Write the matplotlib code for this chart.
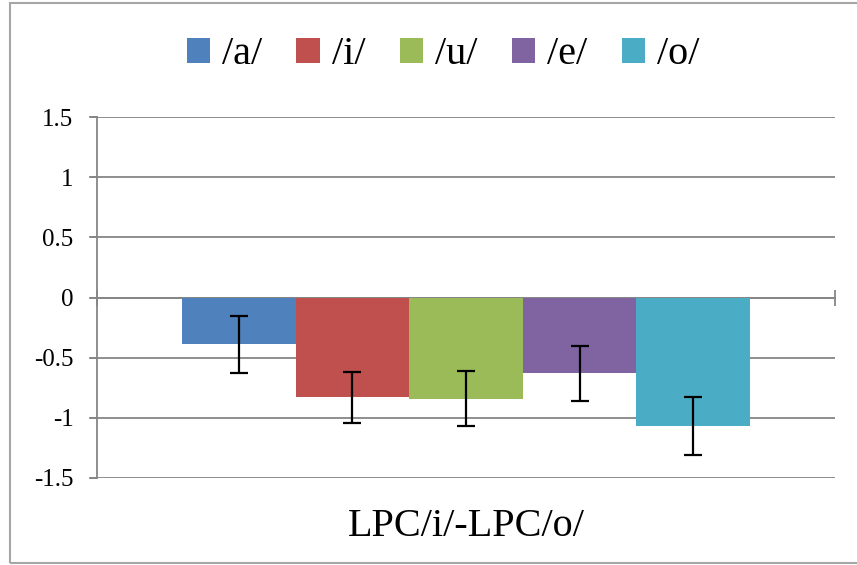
import matplotlib
matplotlib.use("Agg")
import matplotlib.pyplot as plt
from matplotlib.patches import Rectangle
from matplotlib.lines import Line2D

# Data
category = "LPC/i/-LPC/o/"
series = ["/a/", "/i/", "/u/", "/e/", "/o/"]
means = [-0.39, -0.83, -0.84, -0.63, -1.07]
errors = [0.24, 0.21, 0.23, 0.23, 0.24]
colors = ["#4F81BD", "#C0504D", "#9BBB59", "#8064A2", "#4BACC6"]
yticks = [-1.5, -1, -0.5, 0, 0.5, 1, 1.5]
ytick_labels = ["-1.5", "-1", "-0.5", "0", "0.5", "1", "1.5"]

plt.rcParams["font.family"] = ["Liberation Serif", "DejaVu Serif"]

W, H = 857, 565
fig = plt.figure(figsize=(W / 100, H / 100), dpi=100)
fig.patch.set_facecolor("white")

# Chart-area frame (right edge runs off the canvas)
fig.patches.append(Rectangle((10 / W, 1 - 563 / H), 1.2, (563 - 3) / H,
                             transform=fig.transFigure, fill=False,
                             edgecolor="#A6A6A6", linewidth=1.5, zorder=0))

ax = fig.add_axes([97 / W, 1 - 478 / H, (835 - 97) / W, (478 - 117) / H])
ax.set_facecolor("none")

n = len(series)
gap = 1.5
width = 1.0 / (n + gap)
start = gap * width / 2
grid_c = "#868686"

for i, (name, m, e, c) in enumerate(zip(series, means, errors, colors)):
    x = start + width * (i + 0.5)
    ax.bar(x, m, width=width, color=c, label=name, zorder=2)
    ax.errorbar(x, m, yerr=e, fmt="none", ecolor="black", elinewidth=1.6,
                capsize=6.5, capthick=1.6, zorder=3)

ax.set_xlim(0, 1)
ax.set_ylim(-1.5, 1.5)
ax.set_yticks(yticks)
ax.set_yticklabels(ytick_labels, fontsize=18)
ax.tick_params(axis="y", direction="out", length=5, width=1.3, color=grid_c,
               pad=12, labelcolor="black")
ax.yaxis.grid(True, color=grid_c, linewidth=1.3, zorder=1)
ax.set_axisbelow(True)

for s in ("top", "right"):
    ax.spines[s].set_visible(False)
ax.spines["left"].set_color(grid_c)
ax.spines["left"].set_linewidth(1.3)
ax.spines["bottom"].set_position(("data", 0))
ax.spines["bottom"].set_color(grid_c)
ax.spines["bottom"].set_linewidth(1.3)
ax.spines["bottom"].set_zorder(1)

ax.set_xticks([0, 1])
ax.set_xticklabels(["", ""])
ax.tick_params(axis="x", direction="inout", length=12, width=1.3, color=grid_c)

# Extend gridlines leftwards over the tick marks
for yv in yticks:
    ax.add_line(Line2D([-7 / (835 - 97), 0], [yv, yv], color=grid_c,
                       linewidth=1.3, clip_on=False, zorder=1))

ax.text(0.5, -0.135, category, transform=ax.transAxes, ha="center",
        va="center", fontsize=29)

handles, labels = ax.get_legend_handles_labels()
fig.legend(handles, labels, loc="center", bbox_to_anchor=(443 / W, 1 - 55 / H),
           ncol=5, frameon=False, fontsize=29, handlelength=0.58,
           handleheight=0.58, handletextpad=0.3, columnspacing=0.85,
           borderaxespad=0)

fig.savefig("out.png", dpi=100, facecolor="white")
